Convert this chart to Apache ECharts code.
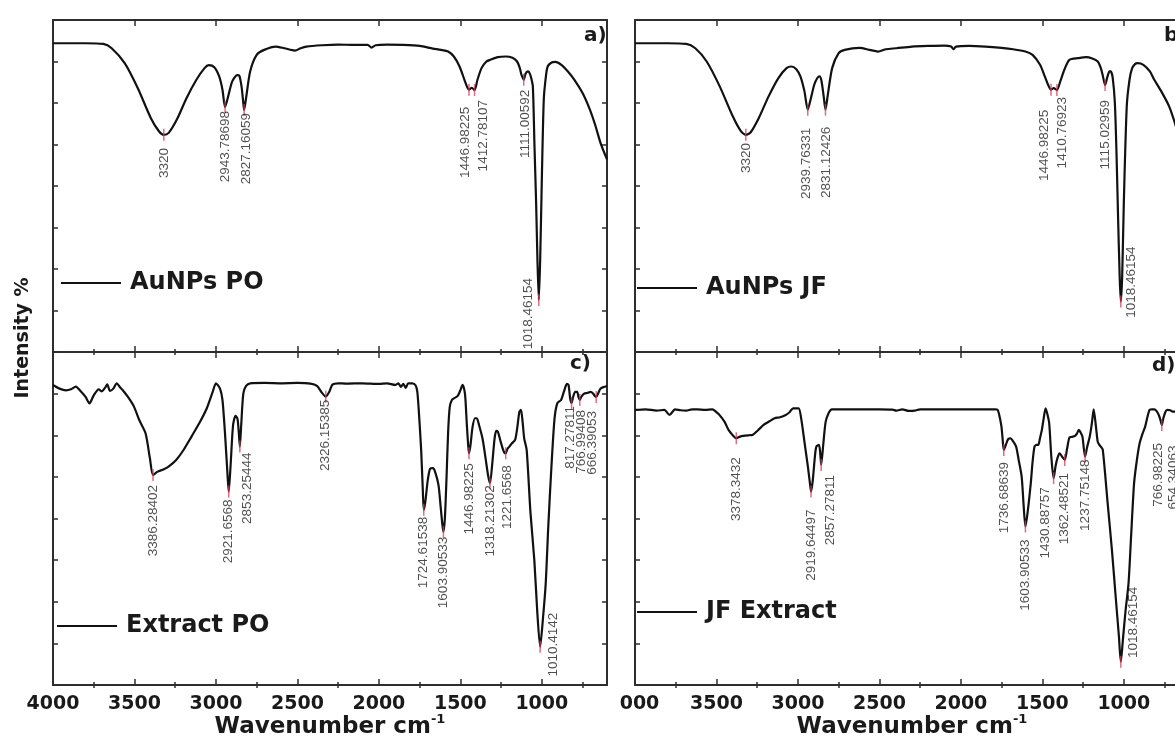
<!DOCTYPE html>
<html><head><meta charset="utf-8">
<script src="https://cdn.jsdelivr.net/npm/echarts@6/dist/echarts.min.js"></script>
<style>html,body{margin:0;padding:0;background:#fff}#c{width:1175px;height:742px}</style>
</head><body><div id="c"></div>
<script>
// ---------- tick values ----------
const xMajorTicks = [4000, 3500, 3000, 2500, 2000, 1500, 1000];
const xMinorTicks = [3750, 3250, 2750, 2250, 1750, 1250, 750];

// ---------- a) AuNPs PO ----------
const waveA = [4000,3800,3691,3640,3560,3480,3400,3350,3320,3290,3240,3180,3120,3070,3044,3010,2980,2960,2943.78698,2925,2900,2870,2856,2843,2833,2827.16059,2815,2790,2750,2704,2633,2580,2515,2480,2445,2350,2250,2150,2069,2045,2020,1950,1850,1750,1669,1620,1575,1540,1505,1475,1460,1446.98225,1430,1412.78107,1395,1370,1340,1316,1270,1222,1180,1152,1135,1125,1117,1111.00592,1100,1085,1075,1065,1055,1045,1035,1027,1018.46154,1010,1000,988,975,964,940,917,880,840,800,750,705,670,640,600];
const intA = [93,93,92.8,91.5,87,79.5,70.5,66.5,65.4,66,70,76.5,82,85.5,86.4,85.8,83,79,73.8,77,81.5,83.4,83.2,80,75.5,72.9,76.5,84.5,89.5,91,92,91.5,90.8,91.5,92,92.4,92.6,92.5,92.5,91.7,92.4,92.6,92.5,92.2,91.4,91,90.5,89,86,82,80,79,79.6,78.9,82,85.5,87.5,88,88.8,89,88.6,87.5,85.5,83.5,82.6,82,83.8,84.5,84,82.5,80,62,45,28,15.7,28,52,76,83,86,87.2,87.4,86.5,84.5,82,78,73,68,63,58];
const peakWaveA = [3320,2943.78698,2827.16059,1446.98225,1412.78107,1111.00592,1018.46154];
const peakTextA = ['3320','2943.78698','2827.16059','1446.98225','1412.78107','1111.00592','1018.46154'];

// ---------- b) AuNPs JF ----------
const waveB = [4000,3800,3686,3630,3560,3480,3400,3350,3320,3290,3240,3180,3120,3070,3041,3010,2985,2960,2939.76331,2925,2900,2880,2867,2855,2842,2831.12426,2818,2790,2750,2713,2622,2560,2509,2460,2396,2300,2200,2100,2060,2046,2030,1950,1850,1750,1680,1604,1560,1514,1485,1465,1446.98225,1430,1410.76923,1390,1365,1334,1280,1230,1198,1160,1141,1128,1115.02959,1100,1088,1080,1068,1055,1045,1035,1025,1018.46154,1010,1000,982,965,949,930,915,880,840,813,770,722,690,657,630,600];
const intB = [93,93,92.8,91.5,87.5,80,71,66.5,65.4,66.2,70.5,77,82.5,85.5,86,85.2,83,78.5,73,75.5,80.5,82.6,83,81.5,77,73,77,85.5,90,91,91.6,91,90.5,91.2,91.5,92,92.2,92.3,92,91.2,92,92.2,92,91.6,91.2,90.5,89.5,86.5,83,80.5,79,79.5,78.9,81.5,85,88,88.5,88.8,88.5,87.5,85.5,83,80.4,83,84.5,84.5,82.5,75,60,40,22,15.2,23,45,74,82,85.5,86.8,87,86.5,84.5,82,78.5,74,69.5,64,60,56];
const peakWaveB = [3320,2939.76331,2831.12426,1446.98225,1410.76923,1115.02959,1018.46154];
const peakTextB = ['3320','2939.76331','2831.12426','1446.98225','1410.76923','1115.02959','1018.46154'];

// ---------- c) Extract PO ----------
const waveC = [4000,3960,3920,3890,3860,3830,3800,3776,3750,3720,3700,3680,3667,3650,3630,3609,3590,3573,3540,3503,3470,3432,3405,3386.28402,3360,3320,3291,3244,3200,3150,3100,3056,3020,3000,2975,2960,2945,2930,2921.6568,2910,2895,2880,2868,2860,2853.25444,2845,2832,2815,2790,2700,2600,2500,2420,2380,2350,2326.15385,2305,2285,2250,2200,2100,2000,1950,1900,1880,1865,1850,1835,1820,1795,1775,1764,1752,1740,1730,1724.61538,1715,1700,1685,1669,1655,1634,1620,1610,1603.90533,1595,1585,1575,1565,1552,1535,1516,1500,1486,1475,1469,1460,1452,1446.98225,1438,1425,1410,1399,1385,1364,1345,1330,1318.21302,1305,1290,1280,1270,1255,1240,1230,1221.6568,1210,1199,1185,1164,1150,1138,1128,1118,1108,1093,1070,1046,1028,1010.4142,993,976,960,941,922,905,882,865,846,836,826,817.27811,808,795,783,775,766.99408,758,740,722,700,685,675,666.39053,655,640,620,600];
const intC = [90.1,89,88.5,88.8,89.6,88.2,86.5,84.6,87,88.8,88.2,89.3,90.3,88.3,89,90.6,89.5,88.6,86.5,83.6,79.5,75.6,68,63.1,64,64.8,65.6,67.6,70.5,74.6,78.8,83.1,88,90.6,89,85.6,76,64,58.1,66,78,80.8,80,76,71.6,78,87.5,89.8,90.6,90.7,90.6,90.7,90.5,89.8,87.8,86.6,88,90.2,90.6,90.5,90.6,90.4,90.6,90.1,90.6,89.5,90.4,89.2,90.6,90.6,90,88,80,70,58,52.6,55,61.5,65,65.1,64,60,53,48,46,50,62,76,83.5,85.6,86.2,86.8,88.5,90.1,88.5,86,78,72,69.6,72,77.5,80.1,80.1,78,74,68,63,60.6,66,74,76.3,76.1,73.5,71,69.8,69.6,71,71.6,72.5,73.6,77.5,82,82.6,79,74,70.6,52,37.5,22,11.5,20,30.6,48,65.6,80,84.6,85.6,88,90.4,90.1,86,84.7,86.5,88,88,86.5,85.6,86.5,87.5,87.7,88,87.5,86.8,86.5,87.5,89,89.5,89.8];
const peakWaveC = [3386.28402,2921.6568,2853.25444,2326.15385,1724.61538,1603.90533,1446.98225,1318.21302,1221.6568,1010.4142,817.27811,766.99408,666.39053];
const peakTextC = ['3386.28402','2921.6568','2853.25444','2326.15385','1724.61538','1603.90533','1446.98225','1318.21302','1221.6568','1010.4142','817.27811','766.99408','666.39053'];

// ---------- d) JF Extract ----------
const waveD = [4000,3935,3867,3820,3788,3754,3720,3686,3650,3618,3570,3527,3482,3450,3426,3400,3378.3432,3355,3335,3300,3279,3245,3211,3175,3143,3110,3075,3050,3030,2996,2980,2960,2939,2925,2919.64497,2910,2895,2887,2871,2863,2857.27811,2845,2830,2810,2792,2700,2600,2500,2420,2396,2360,2320,2283,2250,2150,2050,1950,1850,1790,1774,1762,1751,1744,1736.68639,1725,1710,1695,1680,1661,1645,1627,1615,1603.90533,1590,1571,1560,1548,1536,1525,1515,1503,1492,1480,1470,1458,1445,1430.88757,1418,1405,1394,1378,1362.48521,1348,1333,1318,1299,1288,1276,1265,1254,1237.75148,1225,1209,1195,1185,1172,1160,1150,1140,1129,1100,1073,1050,1030,1018.46154,1005,990,971,955,937,920,903,885,869,855,842,825,813,800,785,775,766.98225,758,745,733,715,700,677,665,654.34063,640,620,600];
const intD = [82.6,82.8,82.4,82.6,81.1,82.8,82.5,82.4,82.8,82.8,82.6,82.8,81.1,79,76.6,75,74.1,74.6,74.8,75,75.1,76.5,78.1,79.2,80.1,80.4,81.1,82,83.1,83.1,80,73,65.6,60,58.1,61,69,71.6,72.1,69.5,66.1,72,79,81.8,82.8,82.8,82.8,82.8,82.7,82.4,82.8,82.3,82.4,82.8,82.8,82.8,82.8,82.8,82.8,82.6,80.5,77.6,74,70.6,72,73.8,74.1,73.2,71.6,67.5,62.6,54,47.6,52,60.6,67,71.6,72.1,72.1,74,76.6,80,83.1,81.5,78.6,68.6,62.1,66,68.5,69.6,68.5,67.6,71,74.4,74.5,74.8,75.5,76.6,75.8,74.6,68.6,71.5,74.6,79,82.8,78,73,72.1,71.5,70.6,55,40.5,26.5,14.5,7,14,22,30.6,45,60.6,67.5,72.6,75.5,77.6,80.5,82.6,82.8,82.8,82.3,81,79.5,78.1,80,82,82.6,82.5,82.1,82.1,80.5,78.5,80.5,82,82.5];
const peakWaveD = [3378.3432,2919.64497,2857.27811,1736.68639,1603.90533,1430.88757,1362.48521,1237.75148,1018.46154,766.98225,654.34063];
const peakTextD = ['3378.3432','2919.64497','2857.27811','1736.68639','1603.90533','1430.88757','1362.48521','1237.75148','1018.46154','766.98225','654.34063'];

// ---------- label layout (dx, gap below the peak), kept apart from data ----------
const labelShiftA = [[0,13],[0,4],[2,3],[-4,17],[9,10],[2,10],[-11,-22]];
const labelShiftB = [[0,8],[-1,18],[1,17],[-7,20],[5,7],[0,15],[10,-55]];
const labelShiftC = [[0,10],[0,8],[7,6],[0,3],[0,7],[0,5],[0,10],[0,2],[2,12],[13,-34],[-1,3],[1,10],[-4,14]];
const labelShiftD = [[0,19],[0,18],[9,10],[0,12],[0,13],[-8,9],[0,13],[0,3],[12,-75],[-4,18],[-7,22]];

const FRAME = '#2e2e2e';
const BOLD = 'DejaVu Sans';

function interp(xs, ys, x) {
  for (let i = 0; i < xs.length - 1; i++) {
    const a = xs[i], b = xs[i + 1];
    if ((x <= a && x >= b) || (x >= a && x <= b)) {
      if (a === b) return ys[i];
      return ys[i] + (ys[i + 1] - ys[i]) * (x - a) / (b - a);
    }
  }
  return ys[ys.length - 1];
}

const panels = [
  {name: 'AuNPs PO', wave: waveA, inten: intA, peaks: peakWaveA, texts: peakTextA, shifts: labelShiftA,
   grid: {left: 53, top: 20, width: 554, height: 332}, labels: false, right: false, tag: 'a)', tagPos: [584, 26], legend: [61, 271]},
  {name: 'AuNPs JF', wave: waveB, inten: intB, peaks: peakWaveB, texts: peakTextB, shifts: labelShiftB,
   grid: {left: 635, top: 20, width: 554, height: 332}, labels: false, right: true, tag: 'b)', tagPos: [1164, 26], legend: [637, 276]},
  {name: 'Extract PO', wave: waveC, inten: intC, peaks: peakWaveC, texts: peakTextC, shifts: labelShiftC,
   grid: {left: 53, top: 352, width: 554, height: 333}, labels: true, right: false, tag: 'c)', tagPos: [570, 354], legend: [57, 614]},
  {name: 'JF Extract', wave: waveD, inten: intD, peaks: peakWaveD, texts: peakTextD, shifts: labelShiftD,
   grid: {left: 635, top: 352, width: 554, height: 333}, labels: true, right: true, tag: 'd)', tagPos: [1152, 356], legend: [637, 600]}
];

const grids = [], xAxes = [], yAxes = [], series = [], legends = [], graphics = [];

panels.forEach((p, g) => {
  grids.push(Object.assign({outerBoundsMode: 'none', containLabel: false}, p.grid));
  const base = {gridIndex: g, type: 'value', min: 600, max: 4000, inverse: true,
                splitLine: {show: false}, nameMoveOverlap: false};
  const majorTick = {show: true, inside: true, length: 6, customValues: xMajorTicks, lineStyle: {color: FRAME, width: 1.5}};
  const minorTick = {show: true, inside: true, length: 3, customValues: xMinorTicks, lineStyle: {color: FRAME, width: 1.5}};
  const frameLine = {show: true, onZero: false, lineStyle: {color: FRAME, width: 2}};
  const xi = xAxes.length;
  xAxes.push(Object.assign({}, base, {
    position: 'bottom', axisLine: frameLine, axisTick: majorTick,
    axisLabel: {
      show: p.labels, customValues: xMajorTicks, margin: 10,
      fontFamily: BOLD, fontWeight: 'bold', fontSize: 19, color: '#1a1a1a',
      formatter: (v) => (p.right && v === 4000) ? '{s|000}' : String(v),
      rich: {s: {fontFamily: BOLD, fontWeight: 'bold', fontSize: 19, color: '#1a1a1a', padding: [0, 0, 0, 9]}}
    },
    name: p.labels ? '{t|Wavenumber cm}{s|-1}' : '',
    nameLocation: 'middle', nameGap: 28,
    nameTextStyle: {rich: {
      t: {fontFamily: BOLD, fontWeight: 'bold', fontSize: 23, color: '#1a1a1a', lineHeight: 28},
      s: {fontFamily: BOLD, fontWeight: 'bold', fontSize: 13, color: '#1a1a1a', verticalAlign: 'top', lineHeight: 14}
    }}
  }));
  xAxes.push(Object.assign({}, base, {position: 'bottom', axisLine: {show: false}, axisTick: minorTick, axisLabel: {show: false}}));
  xAxes.push(Object.assign({}, base, {position: 'top', axisLine: frameLine, axisTick: majorTick, axisLabel: {show: false}}));
  xAxes.push(Object.assign({}, base, {position: 'top', axisLine: {show: false}, axisTick: minorTick, axisLabel: {show: false}}));

  const yi = yAxes.length;
  const yBase = {gridIndex: g, type: 'value', min: 0, max: 100, interval: 12.5, splitLine: {show: false},
                 axisLine: frameLine, axisTick: {show: true, inside: true, length: 5, lineStyle: {color: FRAME, width: 1.5}},
                 axisLabel: {show: false}};
  yAxes.push(Object.assign({}, yBase, {position: 'left'}));
  yAxes.push(Object.assign({}, yBase, {position: 'right'}));

  series.push({
    type: 'line', name: p.name, xAxisIndex: xi, yAxisIndex: yi,
    data: p.wave.map((w, i) => [w, p.inten[i]]),
    showSymbol: false, symbol: 'none', smooth: 0.25,
    lineStyle: {color: '#111', width: 2.2}, itemStyle: {color: '#111'}, z: 3, silent: true
  });
  series.push({
    type: 'scatter', name: p.name + ' peaks', xAxisIndex: xi, yAxisIndex: yi,
    symbol: 'rect', symbolSize: [1.5, 12], itemStyle: {color: '#d43b55', opacity: 0.75}, z: 4, silent: true,
    data: p.peaks.map((w, i) => ({
      name: p.texts[i],
      value: [w, interp(p.wave, p.inten, w)],
      label: {offset: [6 - p.shifts[i][1], p.shifts[i][0]]}
    })),
    label: {show: true, formatter: '{b}', position: 'bottom', distance: 0, rotate: 90,
            align: 'right', verticalAlign: 'middle',
            fontFamily: 'Liberation Sans', fontSize: 13.5, color: '#111'}
  });

  legends.push({
    data: [p.name], left: p.legend[0], top: p.legend[1], orient: 'horizontal',
    icon: 'rect', itemWidth: 60, itemHeight: 2, padding: 0, selectedMode: false,
    itemStyle: {color: '#111'},
    textStyle: {fontFamily: BOLD, fontWeight: 'bold', fontSize: 24, color: '#1a1a1a', padding: [0, 0, 0, 4]}
  });

  graphics.push({type: 'text', x: p.tagPos[0], y: p.tagPos[1], z: 10,
    style: {text: p.tag, font: 'bold 20px "DejaVu Sans"', fill: '#1a1a1a', textVerticalAlign: 'top'}});
});

graphics.push({type: 'text', x: 23, y: 338, rotation: Math.PI / 2, z: 10,
  style: {text: 'Intensity %', font: 'bold 19px "DejaVu Sans"', fill: '#1a1a1a',
          textAlign: 'center', textVerticalAlign: 'middle'}});

const chart = echarts.init(document.getElementById('c'), null, {renderer: 'canvas'});
chart.setOption({
  backgroundColor: '#ffffff',
  animation: false,
  grid: grids,
  xAxis: xAxes,
  yAxis: yAxes,
  legend: legends,
  series: series,
  graphic: graphics
});
</script>
</body></html>
